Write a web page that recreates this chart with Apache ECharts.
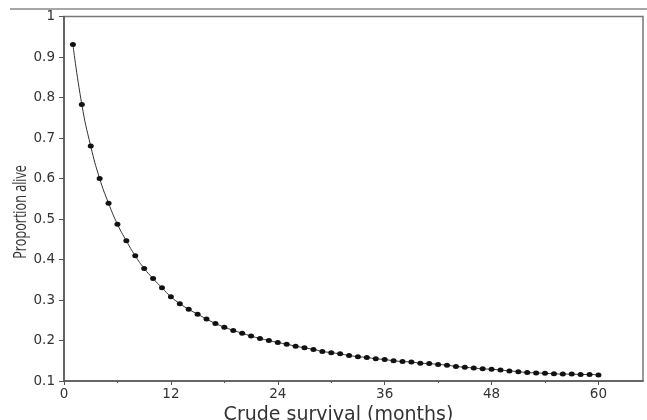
<!DOCTYPE html>
<html>
<head>
<meta charset="utf-8">
<script src="https://cdn.jsdelivr.net/npm/echarts@6/dist/echarts.min.js"></script>
<style>
  html, body { margin: 0; padding: 0; background: #fff; }
  #chart { width: 647px; height: 420px; }
</style>
</head>
<body>
<div id="chart"></div>
<script>
// Months since diagnosis
const months = [
  1, 2, 3, 4, 5, 6, 7, 8, 9, 10, 11, 12, 13, 14, 15, 16, 17, 18, 19, 20,
  21, 22, 23, 24, 25, 26, 27, 28, 29, 30, 31, 32, 33, 34, 35, 36, 37, 38, 39, 40,
  41, 42, 43, 44, 45, 46, 47, 48, 49, 50, 51, 52, 53, 54, 55, 56, 57, 58, 59, 60
];
// Crude proportion of patients still alive at each month
const proportionAlive = [
  0.931, 0.783, 0.680, 0.600, 0.539, 0.487, 0.446, 0.409, 0.378, 0.353,
  0.330, 0.308, 0.291, 0.277, 0.265, 0.253, 0.242, 0.233, 0.225, 0.218,
  0.211, 0.205, 0.200, 0.195, 0.191, 0.186, 0.182, 0.178, 0.173, 0.170,
  0.167, 0.163, 0.160, 0.158, 0.155, 0.153, 0.150, 0.148, 0.147, 0.144,
  0.143, 0.141, 0.139, 0.136, 0.134, 0.132, 0.130, 0.129, 0.127, 0.125,
  0.123, 0.121, 0.120, 0.119, 0.118, 0.117, 0.117, 0.116, 0.116, 0.115
];
// Axis ticks
const xMajorTicks = [0, 12, 24, 36, 48, 60];
const xMinorTicks = [6, 18, 30, 42, 54];

const axisColor = '#555';
const labelFont = { fontFamily: 'DejaVu Sans', fontSize: 13.5, color: '#333' };

const chart = echarts.init(document.getElementById('chart'), null, { renderer: 'canvas' });

chart.setOption({
  backgroundColor: '#fff',
  animation: false,
  grid: {
    left: 64, right: 4, top: 16.5, bottom: 39,
    outerBoundsMode: 'none',
    show: true, borderColor: '#777', borderWidth: 1.5, backgroundColor: 'transparent'
  },
  graphic: [{
    type: 'line',
    shape: { x1: 10, y1: 9, x2: 647, y2: 9 },
    style: { stroke: '#888', lineWidth: 1.5 }
  }, {
    // condensed, rotated y-axis title
    type: 'text',
    x: 21, y: 212,
    rotation: Math.PI / 2,
    scaleX: 0.72,
    style: {
      text: 'Proportion alive',
      font: '17.5px "Open Sans"',
      fill: '#333',
      align: 'center',
      verticalAlign: 'middle'
    }
  }],
  xAxis: [{
    type: 'value', min: 0, max: 65,
    name: 'Crude survival (months)',
    nameLocation: 'middle', nameGap: 15,
    nameTextStyle: { fontFamily: 'DejaVu Sans', fontSize: 19, color: '#333', padding: [0, 30, 0, 0] },
    axisLine: { show: true, lineStyle: { color: axisColor, width: 1.5 } },
    axisTick: { show: true, length: 4, customValues: xMajorTicks, lineStyle: { color: axisColor } },
    axisLabel: Object.assign({ margin: 6, customValues: xMajorTicks }, labelFont),
    splitLine: { show: false }
  }, {
    type: 'value', min: 0, max: 65, position: 'bottom',
    axisLine: { show: false },
    axisTick: { show: true, length: 2, customValues: xMinorTicks, lineStyle: { color: axisColor } },
    axisLabel: { show: false },
    splitLine: { show: false }
  }],
  yAxis: {
    type: 'value', min: 0.1, max: 1, interval: 0.1,
    axisLine: { show: true, lineStyle: { color: axisColor, width: 1.5 } },
    axisTick: { show: true, length: 5, lineStyle: { color: axisColor } },
    axisLabel: Object.assign({ margin: 9 }, labelFont),
    splitLine: { show: false }
  },
  series: [{
    type: 'line',
    data: months.map((m, i) => [m, proportionAlive[i]]),
    smooth: true,
    symbol: 'circle',
    symbolSize: [6, 5],
    showSymbol: true,
    lineStyle: { color: '#333', width: 1 },
    itemStyle: { color: '#111', borderWidth: 0 }
  }]
});
</script>
</body>
</html>
